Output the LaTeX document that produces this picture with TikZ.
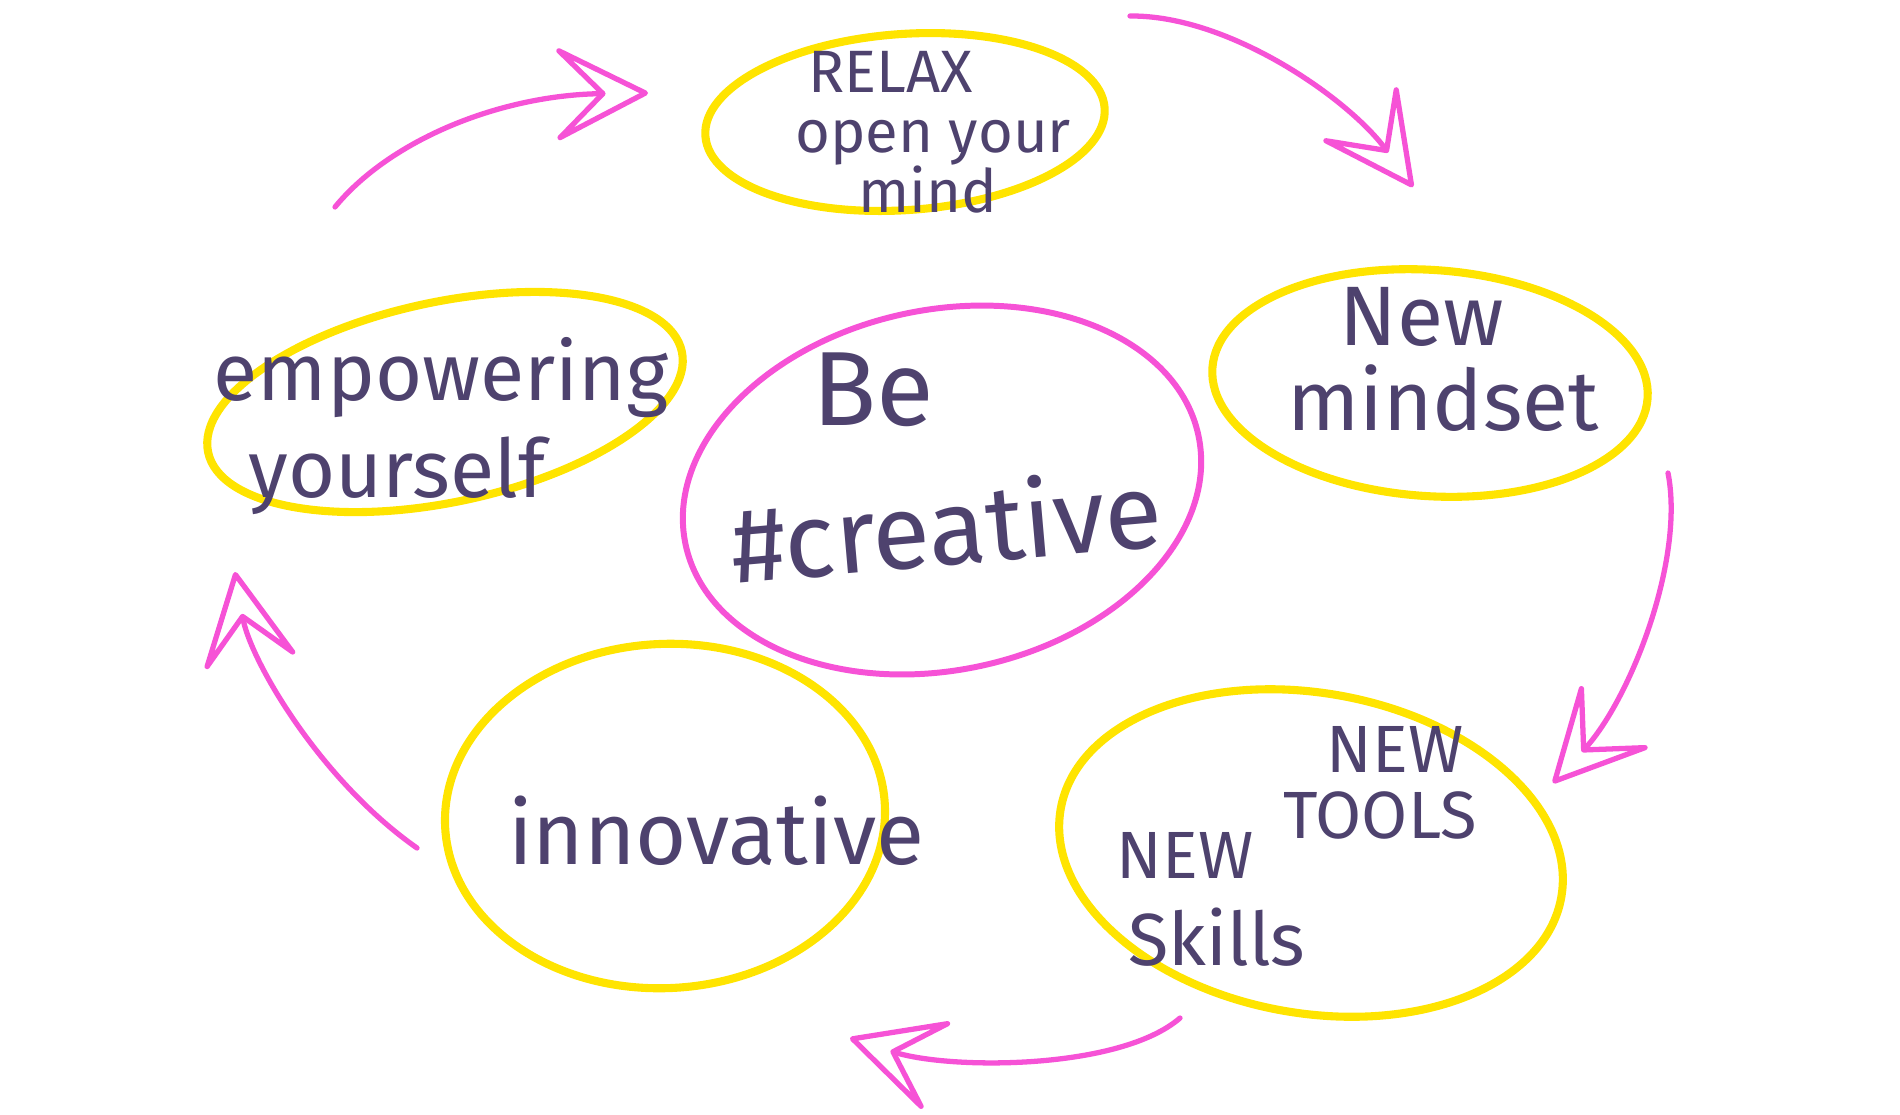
\documentclass[tikz,border=0pt]{standalone}
\usepackage{fontspec}
\newfontfamily\handfont{Fira Sans}
\usetikzlibrary{shapes.geometric}
\usetikzlibrary{arrows.meta}
\definecolor{marker}{RGB}{255,228,0}
\definecolor{pinkpen}{RGB}{246,82,214}
\definecolor{inkpen}{RGB}{78,66,110}
\newcommand{\hw}[1]{\handfont\fontsize{#1}{#1}\selectfont}

\begin{document}
\begin{tikzpicture}[x=0.01cm, y=-0.01cm,
  ring/.style={ellipse, draw=marker, line width=2.3pt, inner sep=0pt},
  hub/.style={ellipse, draw=pinkpen, line width=1.7pt, inner sep=0pt},
  ink/.style={text=inkpen, anchor=base, inner sep=0pt},
  flow/.style={draw=pinkpen, line width=1.5pt, line cap=round,
    -{Stealth[open, round, length=1.05cm, width=1.06cm, inset=0.53cm]}}]

\useasboundingbox (0,0) rectangle (1900,1114);

% rings
\node[ring, minimum width=4cm, minimum height=1.76cm, rotate=4] (relax) at (905,122) {};
\node[ring, minimum width=4.84cm, minimum height=2cm, rotate=12] (power) at (445,402) {};
\node[hub, minimum width=5.24cm, minimum height=3.6cm, rotate=12] (hub) at (942,490) {};
\node[ring, minimum width=4.36cm, minimum height=2.26cm, rotate=-4] (mind) at (1430,383) {};
\node[ring, minimum width=4.4cm, minimum height=3.44cm, rotate=3] (inno) at (665,816) {};
\node[ring, minimum width=5.08cm, minimum height=3.2cm, rotate=-10] (tool) at (1311,853) {};

% labels
\node[ink, font=\hw{17}] (relax_1) at (891,92) {RELAX};
\node[ink, font=\hw{17}] (relax_2) at (933,152) {open your};
\node[ink, font=\hw{17}] (relax_3) at (928,212) {mind};

\node[ink, font=\hw{23}] (power_1) at (441,400) {empowering};
\node[ink, font=\hw{23}] (power_2) at (397,497) {yourself};

\node[ink, font=\hw{30}] (hub_1) at (873,425) {Be};
\node[ink, font=\hw{30}, rotate=5] (hub_2) at (950,565) {\#creative};

\node[ink, font=\hw{24}] (mind_1) at (1422,345) {New};
\node[ink, font=\hw{24}] (mind_2) at (1443,430) {mindset};

\node[ink, font=\hw{19}] (tool_1) at (1395,772) {NEW};
\node[ink, font=\hw{19}] (tool_2) at (1380,838) {TOOLS};
\node[ink, font=\hw{19}] (tool_3) at (1185,878) {NEW};
\node[ink, font=\hw{21}] (tool_4) at (1217,965) {Skills};

\node[ink, font=\hw{25}] (inno_1) at (716,864) {innovative};

% arrows round the hub
\coordinate (a1s) at (335,207);
\coordinate (a1e) at (648,93);
\coordinate (a2s) at (1130,16);
\coordinate (a2e) at (1413,187);
\coordinate (a3s) at (1668,473);
\coordinate (a3e) at (1553,783);
\coordinate (a4s) at (1180,1018);
\coordinate (a4e) at (850,1038);
\coordinate (a5s) at (417,848);
\coordinate (a5e) at (235,572);

\draw[flow] (a1s) .. controls (390,140) and (500,95) .. (a1e);
\draw[flow] (a2s) .. controls (1230,15) and (1350,100) .. (a2e);
\draw[flow] (a3s) .. controls (1685,560) and (1630,700) .. (a3e);
\draw[flow] (a4s) .. controls (1120,1070) and (950,1070) .. (a4e);
\draw[flow] (a5s) .. controls (320,780) and (250,660) .. (a5e);

\end{tikzpicture}
\end{document}
